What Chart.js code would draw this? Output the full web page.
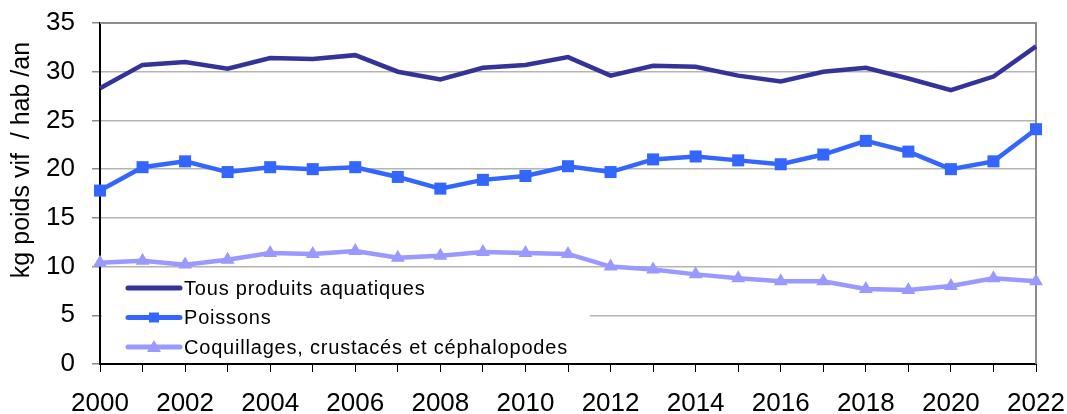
<!DOCTYPE html>
<html>
<head>
<meta charset="utf-8">
<script src="https://cdn.jsdelivr.net/npm/chart.js@4/dist/chart.umd.min.js"></script>
<style>
  html, body { margin: 0; padding: 0; background: #fff; }
  #wrap { width: 1067px; height: 414px; }
</style>
</head>
<body>
<div id="wrap"><canvas id="conso"></canvas></div>
<script>
const years = ['2000','2001','2002','2003','2004','2005','2006','2007','2008','2009','2010',
  '2011','2012','2013','2014','2015','2016','2017','2018','2019','2020','2021','2022'];

const tous = [28.3, 30.7, 31.0, 30.3, 31.4, 31.3, 31.7, 30.0, 29.2, 30.4, 30.7,
  31.5, 29.6, 30.6, 30.5, 29.6, 29.0, 30.0, 30.4, 29.3, 28.1, 29.5, 32.6];

const poissons = [17.8, 20.2, 20.8, 19.7, 20.2, 20.0, 20.2, 19.2, 18.0, 18.9, 19.3,
  20.3, 19.7, 21.0, 21.3, 20.9, 20.5, 21.5, 22.9, 21.8, 20.0, 20.8, 24.1];

const coquillages = [10.4, 10.6, 10.2, 10.7, 11.4, 11.3, 11.6, 10.9, 11.1, 11.5, 11.4,
  11.3, 10.0, 9.7, 9.2, 8.8, 8.5, 8.5, 7.7, 7.6, 8.0, 8.8, 8.5];

const seriesNames = ['Tous produits aquatiques', 'Poissons', 'Coquillages, crustacés et céphalopodes'];
const yTitle = 'kg poids vif  / hab /an';

const FONT = '"Liberation Sans", Arial, sans-serif';

// gray frame on top and right of the plot, y title, legend inside the plot
const framePlugin = {
  id: 'frame',
  beforeDatasetsDraw(chart) {
    const {ctx, chartArea: a} = chart;
    ctx.save();
    ctx.strokeStyle = '#8c8c8c';
    ctx.lineWidth = 2;
    ctx.beginPath();
    ctx.moveTo(a.left, a.top);
    ctx.lineTo(a.right, a.top);
    ctx.lineTo(a.right, a.bottom);
    ctx.stroke();
    // legend box (white, hides grid)
    ctx.fillStyle = '#fff';
    ctx.fillRect(a.left + 2, a.bottom - 93, 488, 91);
    // y axis title, a bit above the middle like the original
    ctx.translate(22, 160);
    ctx.rotate(-Math.PI / 2);
    ctx.font = '25px ' + FONT;
    ctx.fillStyle = '#000';
    ctx.textAlign = 'center';
    ctx.textBaseline = 'middle';
    ctx.fillText(yTitle, 0, 0);
    ctx.restore();
  },
  afterDatasetsDraw(chart) {
    const {ctx, chartArea: a} = chart;
    ctx.save();
    ctx.font = '20px ' + FONT;
    ctx.letterSpacing = '0.8px';
    ctx.textBaseline = 'middle';
    chart.data.datasets.forEach((ds, i) => {
      const y = a.bottom - 76 + i * 29.5;
      const x0 = a.left + 28, x1 = a.left + 80;
      ctx.strokeStyle = ds.borderColor;
      ctx.lineWidth = 5;
      ctx.lineCap = 'round';
      ctx.beginPath();
      ctx.moveTo(x0, y);
      ctx.lineTo(x1, y);
      ctx.stroke();
      const mx = (x0 + x1) / 2;
      ctx.fillStyle = ds.borderColor;
      if (ds.pointStyle === 'rect') {
        ctx.fillRect(mx - 5, y - 5, 10, 10);
      } else if (ds.pointStyle === 'triangle') {
        ctx.beginPath();
        ctx.moveTo(mx, y - 7);
        ctx.lineTo(mx + 7, y + 5);
        ctx.lineTo(mx - 7, y + 5);
        ctx.closePath();
        ctx.fill();
      }
      ctx.fillStyle = '#000';
      ctx.fillText(ds.label, x1 + 4, y + 1);
    });
    ctx.restore();
  }
};

new Chart(
  document.getElementById('conso'),
  {
    type: 'line',
    data: {
      labels: years,
      datasets: [
        {
          label: seriesNames[0],
          data: tous,
          borderColor: '#333399',
          backgroundColor: '#333399',
          borderWidth: 4.5,
          pointRadius: 0,
          pointStyle: false,
          tension: 0,
          clip: false
        },
        {
          label: seriesNames[1],
          data: poissons,
          borderColor: '#3366ff',
          backgroundColor: '#3366ff',
          borderWidth: 4.5,
          pointStyle: 'rect',
          pointRadius: 8.5,
          pointBorderWidth: 0,
          tension: 0,
          clip: false
        },
        {
          label: seriesNames[2],
          data: coquillages,
          borderColor: '#9999ff',
          backgroundColor: '#9999ff',
          borderWidth: 4.5,
          pointStyle: 'triangle',
          pointRadius: 8,
          pointBorderWidth: 0,
          tension: 0,
          clip: false
        }
      ]
    },
    options: {
      responsive: true,
      maintainAspectRatio: false,
      animation: false,
      layout: { padding: { top: 23, right: 31, left: 0, bottom: 0 } },
      plugins: {
        legend: { display: false },
        tooltip: { enabled: false }
      },
      scales: {
        x: {
          offset: false,
          grid: {
            display: true,
            drawOnChartArea: false,
            color: '#000',
            tickLength: 8,
            tickWidth: 1
          },
          border: { display: true, color: '#000', width: 2 },
          ticks: {
            autoSkip: false,
            maxRotation: 0,
            padding: 16,
            color: '#000',
            font: { family: FONT, size: 26 },
            callback: function(value, index) {
              return index % 2 === 0 ? this.getLabelForValue(value) : '';
            }
          },
          afterFit(scale) {
            scale.height = 50;
            scale.paddingLeft = 0;
            scale.paddingRight = 0;
          }
        },
        y: {
          min: 0,
          max: 35,
          grid: {
            color: '#b4b4b4',
            lineWidth: 1.5,
            tickLength: 8,
            tickColor: '#8c8c8c'
          },
          border: { display: true, color: '#000', width: 2 },
          ticks: {
            stepSize: 5,
            padding: 17,
            color: '#000',
            font: { family: FONT, size: 26 }
          },
          afterFit(scale) {
            scale.width = 100;
            scale.paddingTop = 0;
            scale.paddingBottom = 0;
          }
        }
      }
    },
    plugins: [framePlugin]
  }
);
</script>
</body>
</html>
